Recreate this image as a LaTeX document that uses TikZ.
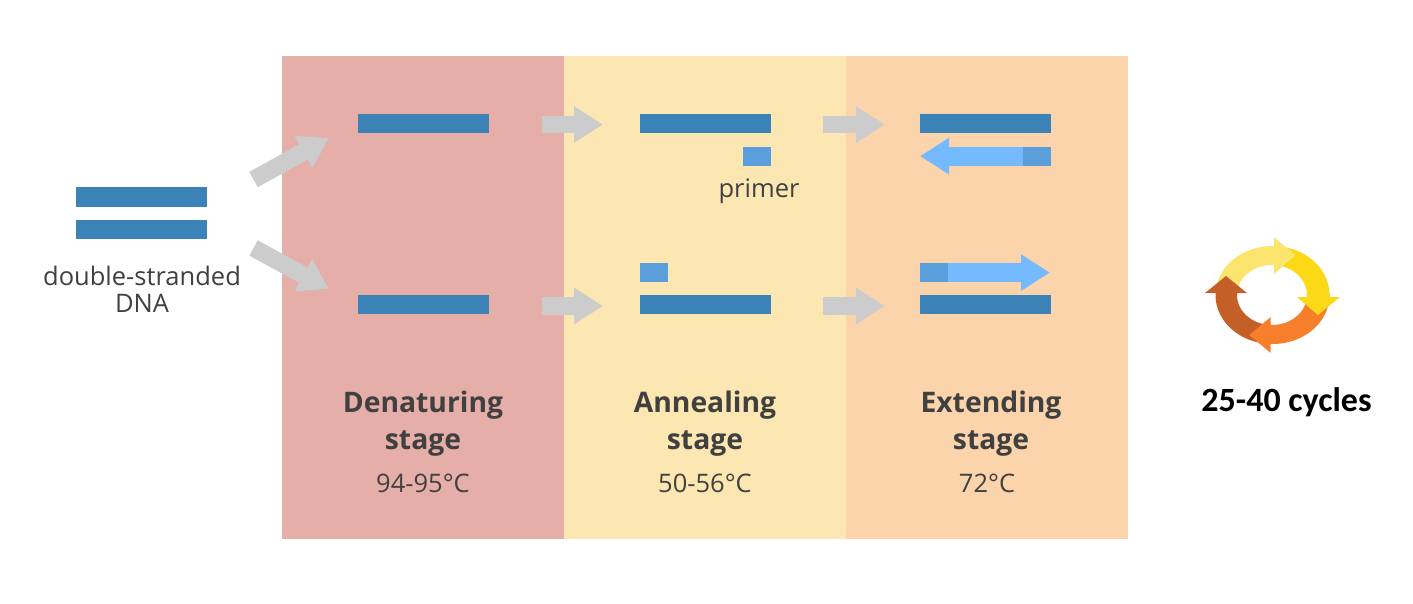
\documentclass[tikz,border=0pt]{standalone}
\usepackage{fontspec}
\setmainfont{Open Sans}
\newfontfamily\carl{Carlito}
\usetikzlibrary{arrows.meta}
\definecolor{panA}{HTML}{E5AEA8}
\definecolor{panB}{HTML}{FCE7B2}
\definecolor{panC}{HTML}{FCD4AB}
\definecolor{strand}{HTML}{3B82B7}
\definecolor{primerc}{HTML}{5A9FDC}
\definecolor{extc}{HTML}{75B9FF}
\definecolor{arrowg}{HTML}{CCCCCC}
\definecolor{txt}{HTML}{404040}
\definecolor{cLY}{HTML}{FCE56F}
\definecolor{cY}{HTML}{FBD916}
\definecolor{cO}{HTML}{F77F2C}
\definecolor{cB}{HTML}{C46027}
\tikzset{
  x=1pt,y=-1pt,
  panel/.style={draw=none,inner sep=0pt,outer sep=0pt,minimum width=282pt,minimum height=483pt,anchor=north west},
  strandbar/.style={fill=strand,inner sep=0pt,outer sep=0pt,minimum width=131pt,minimum height=19.2pt,anchor=north west},
  primerbar/.style={fill=primerc,inner sep=0pt,outer sep=0pt,minimum width=28.5pt,minimum height=19.2pt,anchor=north west},
  grayarrow/.style={draw=arrowg,line width=17.5pt,-{Triangle[length=29pt,width=34.5pt,sep=0pt]}},
  extarrow/.style={draw=extc,line width=19.2pt,-{Triangle[length=29pt,width=34.5pt,sep=0pt]}},
  small/.style={text=txt,font=\fontsize{25.5}{27}\selectfont,align=center,inner sep=0pt},
  stage/.style={text=txt,font=\fontsize{28.3}{37}\selectfont\bfseries,align=center,inner sep=0pt},
}
\newcommand{\ringband}[3]{%
  \fill[#1] plot[domain=#2:#3,samples=50] ({1272.5+57*cos(\x)},{295+49*sin(\x)})
    -- plot[domain=#3:#2,samples=50] ({1272+35*cos(\x)},{295+30*sin(\x)}) -- cycle;}
\begin{document}
\begin{tikzpicture}
\path[use as bounding box,fill=white] (0,0) rectangle (1413,603);
% panels
\node[panel,fill=panA] (p1) at (282,56) {};
\node[panel,fill=panB] (p2) at (564,56) {};
\node[panel,fill=panC] (p3) at (846,56) {};
% start DNA
\node[strandbar] (d1) at (76,187.3) {};
\node[strandbar] (d2) at (76,220) {};
\node[small] (dl) at (142,289) {double-stranded\\DNA};
% strands
\node[strandbar] (a1) at (358,114) {};
\node[strandbar] (a2) at (358,295.2) {};
\node[strandbar] (b1) at (639.5,114) {};
\node[strandbar] (b2) at (639.5,295.2) {};
\node[strandbar] (c1) at (919.5,114) {};
\node[strandbar] (c2) at (919.5,295.2) {};
% primers
\node[primerbar] (pr1) at (742.5,146.5) {};
\node[primerbar] (pr2) at (639.5,263) {};
\node[small] (prl) at (759,191) {primer};
% extended strands
\coordinate (e1s) at (1024,156.1);
\coordinate (e1t) at (920,156.1);
\coordinate (e2s) at (946,272.6);
\coordinate (e2t) at (1050,272.6);
\draw[extarrow] (e1s) -- (e1t);
\draw[extarrow] (e2s) -- (e2t);
\node[primerbar] (pr3) at (1022.5,146.5) {};
\node[primerbar] (pr4) at (919.5,263) {};
% gray arrows
\coordinate (g1s) at (253.5,179.5); \coordinate (g1t) at (329,138);
\coordinate (g2s) at (253.5,248);   \coordinate (g2t) at (329,289);
\coordinate (g3s) at (542,124.5);   \coordinate (g3t) at (603,124.5);
\coordinate (g4s) at (542,306);     \coordinate (g4t) at (603,306);
\coordinate (g5s) at (823,124.5);   \coordinate (g5t) at (885,124.5);
\coordinate (g6s) at (823,306);     \coordinate (g6t) at (885,306);
\foreach \n in {1,...,6} {\draw[grayarrow] (g\n s) -- (g\n t);}
% stage labels
\node[stage] (s1) at (423,424) {Denaturing\\stage};
\node[stage] (s2) at (705,424) {Annealing\\stage};
\node[stage] (s3) at (991,424) {Extending\\stage};
\node[small] (t1) at (423,483) {94-95°C};
\node[small] (t2) at (705,483) {50-56°C};
\node[small] (t3) at (987,483) {72°C};
% cycle ring
\ringband{cLY}{190}{274}
\ringband{cB}{85}{184}
\fill[cB] (1205,293) -- (1226,276) -- (1247,293) -- cycle;
\ringband{cO}{-3}{94}
\fill[cO] (1270.7,317) -- (1249.3,335) -- (1270.7,353) -- cycle;
\ringband{cY}{-85}{5}
\fill[cY] (1297,297) -- (1340,297) -- (1318,315) -- cycle;
\fill[cLY] (1274,237.3) -- (1295.5,255) -- (1274,274) -- cycle;
\node[font=\carl\bfseries\fontsize{34}{38}\selectfont,inner sep=0pt] (cy) at (1286.5,402.5) {25-40 cycles};
\end{tikzpicture}
\end{document}
